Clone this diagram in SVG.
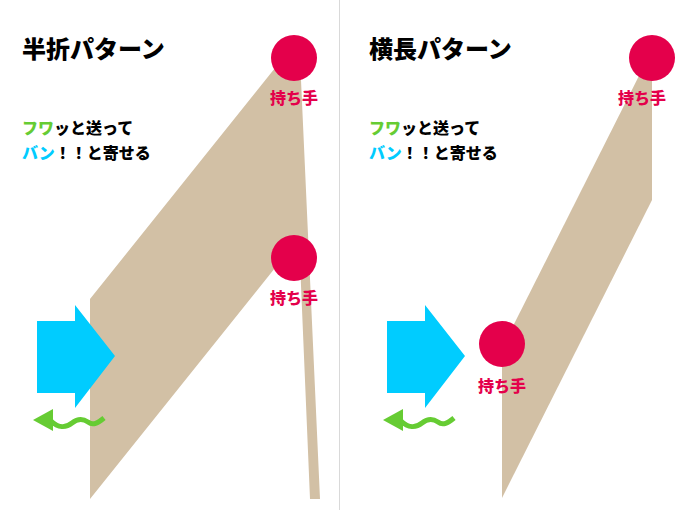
<svg xmlns="http://www.w3.org/2000/svg" width="680" height="510" viewBox="0 0 680 510">
<style>
text{font-family:"Noto Sans CJK JP","Noto Sans CJK SC",sans-serif;font-weight:900}
.title{font-size:24px;fill:#000}
.line{font-size:16px;fill:#000}
.g{fill:#66cc33}
.c{fill:#00ccff}
.cloth{fill:#d2c0a5}
.hand{fill:#e4004b}
.lbl{font-size:16px;fill:#e4004b;text-anchor:middle}
.push{fill:#00ccff}
.wave{fill:none;stroke:#66cc33;stroke-width:5;stroke-linecap:butt}
.wavehead{fill:#66cc33}
</style>
<defs>
<g id="arrows">
<polygon class="push" points="37,321 75,321 75,305 115,356 75,408 75,393 37,393"/>
<polygon class="wavehead" points="33,420 53,409 53,431"/>
<path class="wave" d="M51,421 C58,428 66,428 72,423 C77,419 82,418 88,422 C93,426 98,423 104,418"/>
</g>
</defs>
<rect width="680" height="510" fill="#fff"/>
<line x1="339.5" y1="0" x2="339.5" y2="510" stroke="#d9d9d9" stroke-width="1"/>

<g id="left-panel">
<text class="title" x="22" y="58">半折パターン</text>
<text class="line" x="22" y="134"><tspan class="g">フワ</tspan>ッと送って</text>
<text class="line" x="22" y="159"><tspan class="c">バン</tspan>！！と寄せる</text>
<polygon id="cloth-left" class="cloth" points="90,299 283,58 300,58 320,499 310,499 299,238 90,499"/>
<use id="push-left" href="#arrows"/>
<g id="hand-left-top"><circle class="hand" cx="294" cy="58" r="23"/><text class="lbl" x="294" y="104">持ち手</text></g>
<g id="hand-left-mid"><circle class="hand" cx="294" cy="258" r="23"/><text class="lbl" x="294" y="304">持ち手</text></g>
</g>

<g id="right-panel">
<text class="title" x="369" y="58">横長パターン</text>
<text class="line" x="369" y="134"><tspan class="g">フワ</tspan>ッと送って</text>
<text class="line" x="369" y="159"><tspan class="c">バン</tspan>！！と寄せる</text>
<polygon id="cloth-right" class="cloth" points="502,348 652,50 652,200 502,498"/>
<use id="push-right" href="#arrows" transform="translate(350,0)"/>
<g id="hand-right-top"><circle class="hand" cx="652" cy="58" r="23"/><text class="lbl" x="642" y="104">持ち手</text></g>
<g id="hand-right-low"><circle class="hand" cx="502" cy="344" r="23"/><text class="lbl" x="502" y="392">持ち手</text></g>
</g>
</svg>
